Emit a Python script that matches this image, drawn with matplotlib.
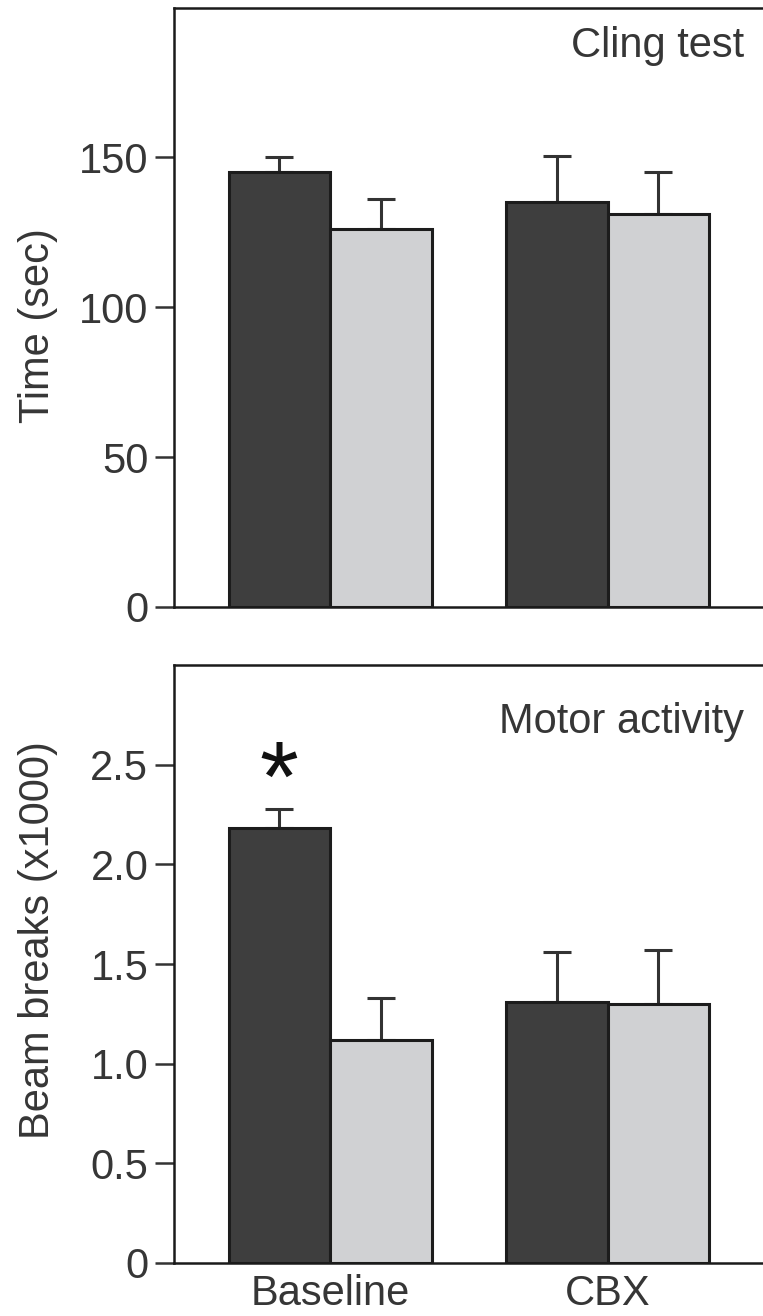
import matplotlib
matplotlib.use("Agg")
import matplotlib.pyplot as plt
import numpy as np

plt.rcParams['font.family'] = ['Liberation Sans', 'DejaVu Sans']

groups = ["Baseline", "CBX"]
cling_dark = [145, 135]
cling_dark_err = [5, 15.5]
cling_light = [126, 131]
cling_light_err = [10, 14]

motor_dark = [2.18, 1.31]
motor_dark_err = [0.10, 0.25]
motor_light = [1.12, 1.30]
motor_light_err = [0.21, 0.27]

cling_ticks = [0, 50, 100, 150]
cling_ticklabels = ["0", "50", "100", "150"]
motor_ticks = [0, 0.5, 1.0, 1.5, 2.0, 2.5]
motor_ticklabels = ["0", "0.5", "1.0", "1.5", "2.0", "2.5"]

DARK = "#3e3e3e"
LIGHT = "#d0d1d3"
EDGE = "#1c1c1c"
TXT = "#363636"

W, H = 763, 1316
fig = plt.figure(figsize=(W / 100, H / 100), dpi=100)

left_px, right_px = 174, 764
ax1 = fig.add_axes([left_px / W, 1 - 607 / H, (right_px - left_px) / W, (607 - 7.5) / H])
ax2 = fig.add_axes([left_px / W, 1 - 1263 / H, (right_px - left_px) / W, (1263 - 665) / H])

x = np.arange(len(groups))
bw = 0.3655
fs = 30


def draw(ax, dark, dark_err, light, light_err, ylim, ticks, ticklabels):
    ax.bar(x - bw / 2, dark, bw, color=DARK, edgecolor=EDGE, linewidth=2.2, zorder=3)
    ax.bar(x + bw / 2, light, bw, color=LIGHT, edgecolor=EDGE, linewidth=2.2, zorder=3)
    for xs, vals, errs in ((x - bw / 2, dark, dark_err), (x + bw / 2, light, light_err)):
        lower = np.zeros(len(vals))
        ax.errorbar(xs, vals, yerr=[lower, errs], fmt='none', ecolor="#333333",
                    elinewidth=2.2, capsize=10, capthick=2.2, zorder=2)
    ax.set_xlim(-0.5618, 1.5628)
    ax.set_ylim(*ylim)
    ax.set_yticks(ticks)
    ax.set_yticklabels(ticklabels)
    ax.spines['right'].set_visible(False)
    for s in ('left', 'bottom', 'top'):
        ax.spines[s].set_linewidth(1.8)
        ax.spines[s].set_color("#1a1a1a")
    ax.tick_params(axis='y', length=13.5, width=1.8, color="#333333", pad=5,
                   labelsize=fs, labelcolor=TXT)
    ax.tick_params(axis='x', length=0, labelsize=fs, labelcolor=TXT, pad=8)


draw(ax1, cling_dark, cling_dark_err, cling_light, cling_light_err, (0, 200),
     cling_ticks, cling_ticklabels)
ax1.set_xticks(x)
ax1.set_xticklabels([])
ax1.text(0.966, 0.935, "Cling test", transform=ax1.transAxes, ha='right', va='center',
         fontsize=fs, color=TXT)
ax1.text(-0.231, 0.47, "Time (sec)", transform=ax1.transAxes, rotation=90,
         ha='center', va='center', fontsize=fs, color=TXT)

draw(ax2, motor_dark, motor_dark_err, motor_light, motor_light_err, (0, 3.0),
     motor_ticks, motor_ticklabels)
ax2.set_xticks(x)
ax2.set_xticklabels(groups)
ax2.text(0.966, 0.905, "Motor activity", transform=ax2.transAxes, ha='right', va='center',
         fontsize=fs, color=TXT)
ax2.text(-0.231, 0.54, "Beam breaks (x1000)", transform=ax2.transAxes, rotation=90,
         ha='center', va='center', fontsize=fs, color=TXT)
ax2.text(x[0] - bw / 2, 2.40, "*", ha='center', va='center', fontsize=72,
         color="#111111")

fig.savefig("out.png", dpi=100)
